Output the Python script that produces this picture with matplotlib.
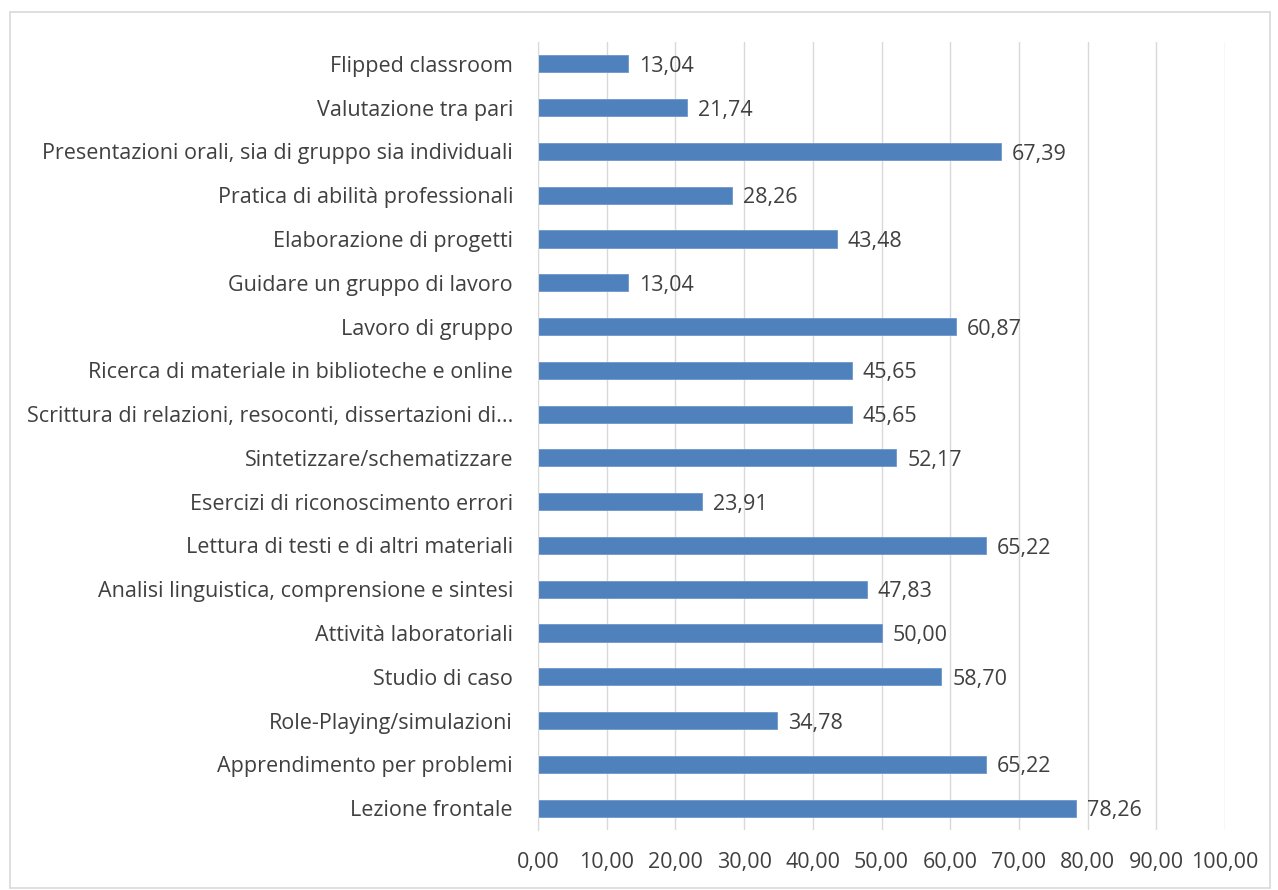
import matplotlib
matplotlib.use("Agg")
import matplotlib.pyplot as plt
from matplotlib.patches import Rectangle

categories = [
    "Flipped classroom",
    "Valutazione tra pari",
    "Presentazioni orali, sia di gruppo sia individuali",
    "Pratica di abilità professionali",
    "Elaborazione di progetti",
    "Guidare un gruppo di lavoro",
    "Lavoro di gruppo",
    "Ricerca di materiale in biblioteche e online",
    "Scrittura di relazioni, resoconti, dissertazioni di...",
    "Sintetizzare/schematizzare",
    "Esercizi di riconoscimento errori",
    "Lettura di testi e di altri materiali",
    "Analisi linguistica, comprensione e sintesi",
    "Attività laboratoriali",
    "Studio di caso",
    "Role-Playing/simulazioni",
    "Apprendimento per problemi",
    "Lezione frontale",
]
values = [13.04, 21.74, 67.39, 28.26, 43.48, 13.04, 60.87, 45.65, 45.65,
          52.17, 23.91, 65.22, 47.83, 50.00, 58.70, 34.78, 65.22, 78.26]
x_ticks = [0, 10, 20, 30, 40, 50, 60, 70, 80, 90, 100]

plt.rcParams["font.family"] = ["Open Sans", "DejaVu Sans"]
FS = 15.5

def fmt(v):
    return f"{v:.2f}".replace(".", ",")

W, H = 1278, 890
fig = plt.figure(figsize=(W / 100, H / 100), dpi=100)
fig.patches.append(Rectangle((10 / W, 2 / H), 1260 / W, 876 / H, transform=fig.transFigure,
                             fill=False, edgecolor="#d9d9d9", linewidth=1.2))
ax = fig.add_axes([538 / W, 1 - 830 / H, (1225 - 538) / W, (830 - 42) / H])

y = list(range(len(categories)))
ax.barh(y, values, height=0.39, color="#4f81bd", edgecolor="#6f97cc", linewidth=0.6, zorder=3)
for yi, v in zip(y, values):
    ax.text(v + 1.6, yi + 0.06, fmt(v), va="center", ha="left", fontsize=FS, color="#404040")

ax.set_ylim(len(categories) - 0.5, -0.5)
ax.set_xlim(0, 100)
ax.set_yticks(y)
ax.set_yticklabels(categories, fontsize=FS, color="#404040")
ax.set_xticks(x_ticks)
ax.set_xticklabels([fmt(t) for t in x_ticks], fontsize=FS, color="#404040")
ax.tick_params(axis="both", length=0)
ax.tick_params(axis="y", pad=18)
ax.tick_params(axis="x", pad=16)
ax.grid(axis="x", color="#d9d9d9", linewidth=1, zorder=0)
for s in ["top", "right", "bottom"]:
    ax.spines[s].set_visible(False)
ax.spines["left"].set_color("#d9d9d9")
ax.spines["left"].set_zorder(4)

fig.savefig("out.png", dpi=100)
